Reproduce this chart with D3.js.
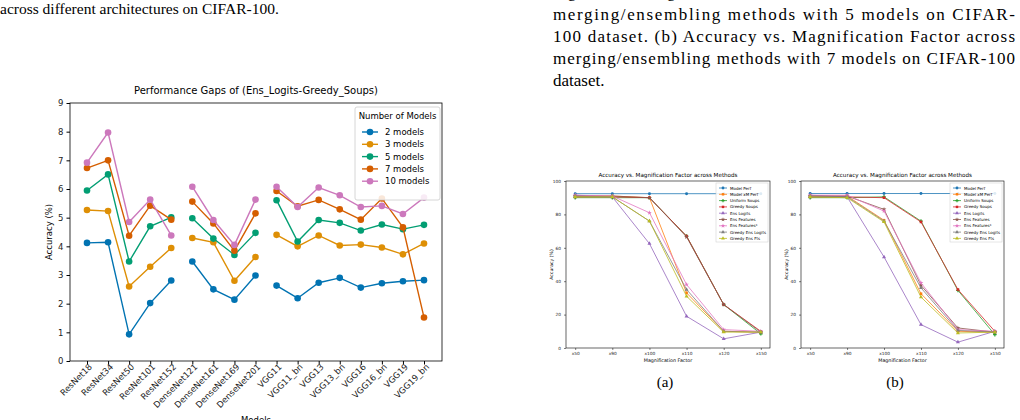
<!DOCTYPE html>
<html><head><meta charset="utf-8">
<script src="https://cdn.jsdelivr.net/npm/d3@7"></script>
<style>body{margin:0;background:#fff}svg{display:block}</style>
</head><body>
<svg id="page" width="1020" height="420"></svg>
<script>
// ---- data ----
var archs = ["ResNet18","ResNet34","ResNet50","ResNet101","ResNet152","DenseNet121","DenseNet161","DenseNet169","DenseNet201",
  "VGG11","VGG11_bn","VGG13","VGG13_bn","VGG16","VGG16_bn","VGG19","VGG19_bn"];
var groups = [[0,5],[5,9],[9,17]];
var modelCounts = ["2 models","3 models","5 models","7 models","10 models"];
var gap2  = [4.12,4.14,0.93,2.02,2.81, 3.47,2.50,2.14,2.98, 2.63,2.19,2.73,2.90,2.56,2.71,2.78,2.82];
var gap3  = [5.27,5.23,2.60,3.29,3.94, 4.29,4.14,2.80,3.63, 4.40,4.00,4.38,4.03,4.06,3.96,3.72,4.10];
var gap5  = [5.95,6.51,3.47,4.70,5.01, 4.98,4.27,3.70,4.47, 5.61,4.17,4.92,4.82,4.55,4.76,4.60,4.75];
var gap7  = [6.73,7.00,4.37,5.42,4.93, 5.56,4.80,3.85,5.15, 5.93,5.40,5.62,5.29,4.93,5.67,4.66,1.52];
var gap10 = [6.92,7.97,4.85,5.63,4.38, 6.08,4.92,4.05,5.63, 6.08,5.37,6.05,5.78,5.37,5.41,5.13,5.70];
var gapColors = ["#0173b2","#de8f05","#029e73","#d55e00","#cc78bc"];

var mags = ["x50","x90","x100","x110","x120","x150"];
var methods = ["Model Perf","Model xM Perf","Uniform Soups","Greedy Soups","Ens Logits","Ens Features","Ens Features*","Greedy Ens Logits","Greedy Ens Fts"];
var methodColors = ["#1f77b4","#ff7f0e","#2ca02c","#d62728","#9467bd","#8c564b","#e377c2","#7f7f7f","#bcbd22"];
var methodSymbols = [d3.symbolCircle,d3.symbolSquare,d3.symbolCross,d3.symbolSquare,d3.symbolTriangle,d3.symbolStar,d3.symbolStar,d3.symbolTriangle,d3.symbolTriangle];
var acc5 = [
  [92.4,92.4,92.4,92.4,92.4,92.4],
  [91,91,90,33,10,9.5],
  [90,90,90,67,26,8.5],
  [90.5,90.5,90,67,26,10],
  [91.5,90.5,62.5,19,5.5,9.5],
  [91,91,90,66.5,26,9.5],
  [91.5,91,81,38,11,10],
  [91,90.5,76,35,10,9.5],
  [90.5,90.5,76,31,9.5,9.5]
];
var acc7 = [
  [92.5,92.5,92.5,92.5,92.5,92.5],
  [91,91,76.5,32.5,10,9.5],
  [90,90,90.5,76,34.5,8],
  [90.5,90.5,90,75.5,35,10],
  [91.5,90.5,54.5,14,3.5,10],
  [91,91,83,37.5,12,9.5],
  [91.5,91.5,82,39,11,10],
  [91,90.5,76,36,10.5,9.5],
  [90.5,90,75.5,30.5,9,9.5]
];

var svg = d3.select("#page");
var serif = "'Liberation Serif','DejaVu Serif',serif";
var sans = "'DejaVu Sans',sans-serif";

// ---- paper text ----
svg.append("text").attr("x",0).attr("y",14).attr("font-family",serif).attr("font-size",15.5)
  .text("across different architectures on CIFAR-100.");
var capLines = [
  ["merging/ensembling methods with 5 models on CIFAR-",true],
  ["100 dataset. (b) Accuracy vs. Magnification Factor across",true],
  ["merging/ensembling methods with 7 models on CIFAR-100",true],
  ["dataset.",false]];
capLines.forEach(function(l,i){
  var t = svg.append("text").attr("x",553).attr("y",20+i*22).attr("font-family",serif).attr("font-size",17).text(l[0]);
  if(l[1]) t.attr("textLength",462).attr("lengthAdjust","spacing");
});
svg.append("text").attr("x",553).attr("y",-3).attr("font-family",serif).attr("font-size",17)
  .attr("textLength",462).attr("lengthAdjust","spacing").text("ings/ensembling methods across different datasets and model");
svg.append("text").attr("x",665).attr("y",387).attr("text-anchor","middle").attr("font-family",serif).attr("font-size",15).text("(a)");
svg.append("text").attr("x",895).attr("y",387).attr("text-anchor","middle").attr("font-family",serif).attr("font-size",15).text("(b)");

// ---- left chart ----
(function(){
  var L=70,R=442,T=103,B=361;
  var g = svg.append("g");
  var x = d3.scalePoint().domain(archs).range([87,424]);
  var y = d3.scaleLinear().domain([0,9]).range([B,T]);
  g.append("rect").attr("x",L).attr("y",T).attr("width",R-L).attr("height",B-T).attr("fill","none").attr("stroke","#000").attr("stroke-width",0.8);
  var ya = g.append("g").attr("transform","translate("+L+",0)").call(d3.axisLeft(y).ticks(9).tickSize(3.5));
  var xa = g.append("g").attr("transform","translate(0,"+B+")").call(d3.axisBottom(x).tickSize(3.5));
  [ya,xa].forEach(function(a){a.select(".domain").remove();a.selectAll("text").attr("font-family",sans).attr("font-size",8.5).attr("fill","#222");});
  xa.selectAll("text").attr("text-anchor","end").attr("dx","-0.1em").attr("dy","0.2em").attr("transform","rotate(-45)");
  g.append("text").attr("x",(L+R)/2).attr("y",94).attr("text-anchor","middle").attr("font-family",sans).attr("font-size",10).text("Performance Gaps of (Ens_Logits-Greedy_Soups)");
  g.append("text").attr("transform","translate(52,"+((T+B)/2)+") rotate(-90)").attr("text-anchor","middle").attr("font-family",sans).attr("font-size",8.5).text("Accuracy (%)");
  g.append("text").attr("x",(L+R)/2).attr("y",423).attr("text-anchor","middle").attr("font-family",sans).attr("font-size",8.5).text("Models");
  var series=[gap2,gap3,gap5,gap7,gap10];
  var line = d3.line().x(function(d){return x(d.a);}).y(function(d){return y(d.v);});
  series.forEach(function(s,i){
    var pts = s.map(function(v,j){return {a:archs[j],v:v,j:j};});
    groups.forEach(function(gr){
      g.append("path").attr("d",line(pts.slice(gr[0],gr[1]))).attr("fill","none").attr("stroke",gapColors[i]).attr("stroke-width",1.4);
    });
    g.selectAll(null).data(pts).enter().append("circle").attr("cx",function(d){return x(d.a);}).attr("cy",function(d){return y(d.v);})
      .attr("r",3.3).attr("fill",gapColors[i]);
  });
  // legend
  var lg = g.append("g").attr("transform","translate(355,107)");
  lg.append("rect").attr("width",85).attr("height",93).attr("rx",2).attr("fill","#fff").attr("fill-opacity",0.85).attr("stroke","#ccc").attr("stroke-width",0.8);
  lg.append("text").attr("x",42.5).attr("y",12).attr("text-anchor","middle").attr("font-family",sans).attr("font-size",8.5).text("Number of Models");
  modelCounts.forEach(function(m,i){
    var yy=25+i*12.3;
    lg.append("line").attr("x1",7).attr("x2",23).attr("y1",yy).attr("y2",yy).attr("stroke",gapColors[i]).attr("stroke-width",1.4);
    lg.append("circle").attr("cx",15).attr("cy",yy).attr("r",3.3).attr("fill",gapColors[i]);
    lg.append("text").attr("x",30).attr("y",yy+3).attr("font-family",sans).attr("font-size",8.5).text(m);
  });
})();

// ---- right charts ----
function magChart(L,R,data){
  var T=181,B=348;
  var g = svg.append("g");
  var x = d3.scalePoint().domain(mags).range([L+(R-L)*0.045,R-(R-L)*0.045]);
  var y = d3.scaleLinear().domain([0,100]).range([B,T]);
  g.append("rect").attr("x",L).attr("y",T).attr("width",R-L).attr("height",B-T).attr("fill","none").attr("stroke","#000").attr("stroke-width",0.6);
  var ya = g.append("g").attr("transform","translate("+L+",0)").call(d3.axisLeft(y).tickValues([0,20,40,60,80,100]).tickSize(2));
  var xa = g.append("g").attr("transform","translate(0,"+B+")").call(d3.axisBottom(x).tickSize(2).tickPadding(1.5));
  [ya,xa].forEach(function(a){a.select(".domain").remove();a.selectAll("line").attr("stroke-width",0.5);a.selectAll("text").attr("font-family",sans).attr("font-size",4.3).attr("fill","#222");});
  g.append("text").attr("x",(L+R)/2).attr("y",177).attr("text-anchor","middle").attr("font-family",sans).attr("font-size",5.6).text("Accuracy vs. Magnification Factor across Methods");
  g.append("text").attr("transform","translate("+(L-13)+","+((T+B)/2)+") rotate(-90)").attr("text-anchor","middle").attr("font-family",sans).attr("font-size",4.6).text("Accuracy (%)");
  g.append("text").attr("x",(L+R)/2).attr("y",362).attr("text-anchor","middle").attr("font-family",sans).attr("font-size",4.8).text("Magnification Factor");
  var line = d3.line().x(function(d,j){return x(mags[j]);}).y(function(d){return y(d);});
  data.forEach(function(s,i){
    g.append("path").attr("d",line(s)).attr("fill","none").attr("stroke",methodColors[i]).attr("stroke-width",0.8);
    g.selectAll(null).data(s).enter().append("path")
      .attr("transform",function(d,j){return "translate("+x(mags[j])+","+y(d)+")";})
      .attr("d",d3.symbol().type(methodSymbols[i]).size(7)).attr("fill",methodColors[i]);
  });
  var lg = g.append("g").attr("transform","translate("+(R-54)+",183)");
  lg.append("rect").attr("width",52).attr("height",59).attr("fill","#fff").attr("fill-opacity",0.85).attr("stroke","#ccc").attr("stroke-width",0.5);
  methods.forEach(function(m,i){
    var yy=5+i*6.3;
    lg.append("line").attr("x1",3).attr("x2",11).attr("y1",yy).attr("y2",yy).attr("stroke",methodColors[i]).attr("stroke-width",0.8);
    lg.append("path").attr("transform","translate(7,"+yy+")").attr("d",d3.symbol().type(methodSymbols[i]).size(6)).attr("fill",methodColors[i]);
    lg.append("text").attr("x",14).attr("y",yy+1.5).attr("font-family",sans).attr("font-size",4).text(m);
  });
}
magChart(566,770,acc5);
magChart(801,1004,acc7);
</script>
</body></html>
